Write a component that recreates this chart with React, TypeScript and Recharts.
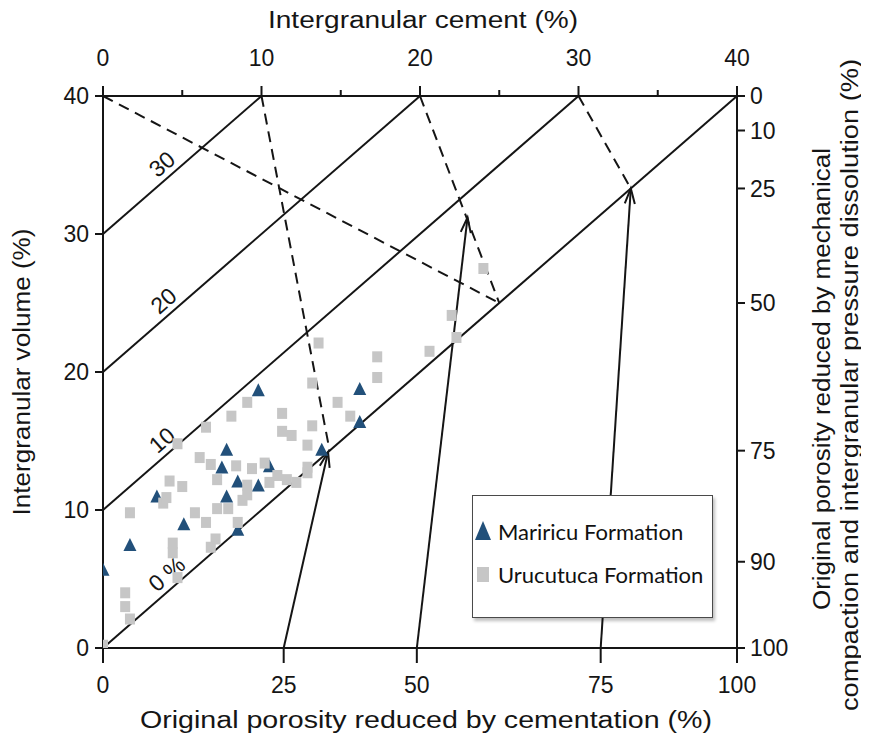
import React from "react";
import {
  ScatterChart, Scatter, XAxis, YAxis, ReferenceLine, ReferenceDot, Legend, Label,
} from "recharts";

// axis ticks
const cementTicks = [0, 5, 10, 15, 20, 25, 30, 35, 40];
const igvTicks = [0, 10, 20, 30, 40];
// bottom scale: % of original porosity lost to cementation, placed on the cement axis
const cementationLabels = [0, 25, 50, 75, 100];
const cementationAt = [0, 11.4, 19.8, 31.4, 40];
// right scale: % of original porosity lost to compaction, placed on the IGV axis
const compactionLabels = [100, 90, 75, 50, 25, 10, 0];
const compactionAt = [0, 6.25, 14.3, 25, 33.3, 37.5, 40];

// porosity isolines (IGV - cement)
const porosityValues = [0, 10, 20, 30];
const porosityLabels = ["0 %", "10", "20", "30"];
const porosityLabelAt = [4.6, 4.3, 4.4, 4.3];

// dashed guides and arrows, in (cement, IGV)
const guideFrom = [[0, 40], [10, 40], [20, 40], [30, 40]];
const guideTo = [[25, 25], [14.3, 14.3], [25, 25], [33.3, 33.3]];
const arrowFrom = [[11.4, 0], [19.8, 0], [31.4, 0]];
const arrowTo = [[14.2, 14.2], [23.0, 31.2], [33.3, 33.3]];

const seriesNames = ["Mariricu Formation", "Urucutuca Formation"];

const mariricu = [
  { cement: 0, igv: 5.6 }, { cement: 1.7, igv: 7.4 }, { cement: 3.4, igv: 10.9 },
  { cement: 5.1, igv: 8.9 }, { cement: 7.8, igv: 14.3 }, { cement: 7.5, igv: 13.0 },
  { cement: 8.5, igv: 12.0 }, { cement: 9.8, igv: 11.7 }, { cement: 7.8, igv: 10.9 },
  { cement: 9.8, igv: 18.6 }, { cement: 10.5, igv: 13.1 }, { cement: 8.5, igv: 8.5 },
  { cement: 13.8, igv: 14.3 }, { cement: 16.2, igv: 18.7 }, { cement: 16.2, igv: 16.3 },
];

const urucutuca = [
  { cement: 0, igv: 0.2 }, { cement: 1.7, igv: 2.1 }, { cement: 1.4, igv: 3.0 },
  { cement: 1.4, igv: 4.0 }, { cement: 4.7, igv: 5.1 }, { cement: 4.4, igv: 7.6 },
  { cement: 4.4, igv: 6.9 }, { cement: 7.1, igv: 7.9 }, { cement: 6.8, igv: 7.3 },
  { cement: 6.5, igv: 9.1 }, { cement: 8.5, igv: 9.1 }, { cement: 1.7, igv: 9.8 },
  { cement: 5.8, igv: 9.8 }, { cement: 7.2, igv: 10.1 }, { cement: 7.9, igv: 10.1 },
  { cement: 8.8, igv: 10.7 }, { cement: 9.1, igv: 11.1 }, { cement: 3.8, igv: 10.5 },
  { cement: 4.0, igv: 10.9 }, { cement: 5.0, igv: 11.7 }, { cement: 4.2, igv: 12.1 },
  { cement: 7.2, igv: 12.2 }, { cement: 9.1, igv: 11.8 }, { cement: 10.5, igv: 12.0 },
  { cement: 11.6, igv: 12.2 }, { cement: 12.2, igv: 12.0 }, { cement: 11.0, igv: 12.5 },
  { cement: 6.1, igv: 13.8 }, { cement: 6.8, igv: 13.3 }, { cement: 8.4, igv: 13.2 },
  { cement: 9.4, igv: 13.0 }, { cement: 10.2, igv: 13.4 }, { cement: 12.9, igv: 13.1 },
  { cement: 12.9, igv: 12.7 }, { cement: 12.9, igv: 14.7 }, { cement: 4.7, igv: 14.8 },
  { cement: 6.5, igv: 16.0 }, { cement: 8.1, igv: 16.8 }, { cement: 9.1, igv: 17.8 },
  { cement: 11.3, igv: 17.0 }, { cement: 11.3, igv: 15.7 }, { cement: 11.9, igv: 15.4 },
  { cement: 13.2, igv: 16.1 }, { cement: 13.2, igv: 19.2 }, { cement: 13.6, igv: 22.1 },
  { cement: 14.8, igv: 17.8 }, { cement: 15.6, igv: 16.8 }, { cement: 17.3, igv: 21.1 },
  { cement: 17.3, igv: 19.6 }, { cement: 20.6, igv: 21.5 }, { cement: 22.3, igv: 22.5 },
  { cement: 22.0, igv: 24.1 }, { cement: 24.0, igv: 27.5 },
];

const INK = "#151515";
const FONT = "'Liberation Sans', Arial, sans-serif";
const TRI = "#22507a";
const SQ = "#c6c6c6";
const TOP_TICK = 10;
const TOP_GAP = 20;

const tickStyle = { fill: INK, fontSize: 23, fontFamily: FONT };
const axisLineStyle = { stroke: INK, strokeWidth: 2 };
const tickLineStyle = { stroke: INK, strokeWidth: 2 };

// eslint-disable-next-line @typescript-eslint/no-explicit-any
function Triangle(p: any) {
  const { cx, cy } = p;
  return <polygon points={`${cx},${cy - 8} ${cx - 6.5},${cy + 5} ${cx + 6.5},${cy + 5}`} fill={TRI} />;
}

// eslint-disable-next-line @typescript-eslint/no-explicit-any
function Square(p: any) {
  const { cx, cy } = p;
  return <rect x={cx - 5} y={cy - 5.5} width={10} height={11} fill={SQ} />;
}

// eslint-disable-next-line @typescript-eslint/no-explicit-any
function TopTick(p: any) {
  const { x, y, payload } = p;
  const axisY = y + TOP_TICK + TOP_GAP;
  const major = payload.value % 10 === 0;
  return (
    <g>
      <line x1={x} x2={x} y1={axisY} y2={axisY - (major ? TOP_TICK : 6)} stroke={INK} strokeWidth={2} />
      {major && (
        <text x={x} y={y} textAnchor="middle" fill={INK} fontSize={23} fontFamily={FONT}>
          {payload.value}
        </text>
      )}
    </g>
  );
}

// eslint-disable-next-line @typescript-eslint/no-explicit-any
function BottomTick(p: any) {
  const { x, y, payload } = p;
  const i = cementationAt.indexOf(payload.value);
  const axisY = y - 25;
  return (
    <g>
      <line x1={x} x2={x} y1={axisY} y2={axisY + 15} stroke={INK} strokeWidth={2} />
      <text x={x} y={y + 20} textAnchor="middle" fill={INK} fontSize={23} fontFamily={FONT}>
        {cementationLabels[i]}
      </text>
    </g>
  );
}

// eslint-disable-next-line @typescript-eslint/no-explicit-any
function Arrow(p: any) {
  const { x1, y1, x2, y2 } = p;
  const a = Math.atan2(y2 - y1, x2 - x1);
  const len = 16;
  const s = 0.32;
  const hx1 = x2 - len * Math.cos(a - s), hy1 = y2 - len * Math.sin(a - s);
  const hx2 = x2 - len * Math.cos(a + s), hy2 = y2 - len * Math.sin(a + s);
  return (
    <g>
      <line x1={x1} y1={y1} x2={x2} y2={y2} stroke={INK} strokeWidth={2} />
      <polyline points={`${hx1},${hy1} ${x2},${y2} ${hx2},${hy2}`} fill="none" stroke={INK} strokeWidth={2} />
    </g>
  );
}

function isoLabel(text: string) {
  // eslint-disable-next-line @typescript-eslint/no-explicit-any
  return (props: any) => {
    const vb = props.viewBox || {};
    const cx = vb.x + (vb.width || 0) / 2;
    const cy = vb.y + (vb.height || 0) / 2;
    return (
      <text
        x={cx} y={cy} dy={-6} textAnchor="middle" fill={INK} fontSize={23} fontFamily={FONT}
        transform={`rotate(-41 ${cx} ${cy})`}
      >
        {text}
      </text>
    );
  };
}

// eslint-disable-next-line @typescript-eslint/no-explicit-any
function TopTitle(props: any) {
  const vb = props.viewBox;
  return (
    <text x={vb.x + vb.width / 2 + 3} y={vb.y - 18} textAnchor="middle" fill={INK} fontSize={23}
      fontFamily={FONT} textLength={310} lengthAdjust="spacingAndGlyphs">
      Intergranular cement (%)
    </text>
  );
}

// eslint-disable-next-line @typescript-eslint/no-explicit-any
function BottomTitle(props: any) {
  const vb = props.viewBox;
  return (
    <text x={vb.x + vb.width / 2 + 6} y={vb.y + 80} textAnchor="middle" fill={INK} fontSize={23}
      fontFamily={FONT} textLength={572} lengthAdjust="spacingAndGlyphs">
      Original porosity reduced by cementation (%)
    </text>
  );
}

// eslint-disable-next-line @typescript-eslint/no-explicit-any
function LeftTitle(props: any) {
  const vb = props.viewBox;
  const x = vb.x - 13;
  const y = vb.y + vb.height / 2;
  return (
    <text x={x} y={y} textAnchor="middle" fill={INK} fontSize={23} fontFamily={FONT}
      transform={`rotate(-90 ${x} ${y})`} textLength={287} lengthAdjust="spacingAndGlyphs">
      Intergranular volume (%)
    </text>
  );
}

// eslint-disable-next-line @typescript-eslint/no-explicit-any
function RightTitle(props: any) {
  const vb = props.viewBox;
  const y = vb.y + vb.height / 2;
  const x1 = vb.x + 93;
  const x2 = vb.x + 121;
  return (
    <g>
      <text x={x1} y={y + 7} textAnchor="middle" fill={INK} fontSize={23} fontFamily={FONT}
        transform={`rotate(-90 ${x1} ${y + 7})`} textLength={462} lengthAdjust="spacingAndGlyphs">
        Original porosity reduced by mechanical
      </text>
      <text x={x2} y={y + 13} textAnchor="middle" fill={INK} fontSize={23} fontFamily={FONT}
        transform={`rotate(-90 ${x2} ${y + 13})`} textLength={652} lengthAdjust="spacingAndGlyphs">
        compaction and intergranular pressure dissolution (%)
      </text>
    </g>
  );
}

function LegendBox() {
  return (
    <div
      style={{
        width: 241, height: 123, boxSizing: "border-box", border: "1.5px solid #4a4a4a",
        background: "#fff", boxShadow: "2px 3px 3px rgba(0,0,0,0.25)",
        fontFamily: "Lato, sans-serif", fontSize: 22, color: "#111", position: "relative",
      }}
    >
      {seriesNames.map((name, i) => (
        <div key={name} style={{ position: "absolute", left: 1, top: 22 + i * 43, display: "flex", alignItems: "center", height: 26 }}>
          <svg width={22} height={22} style={{ marginRight: 2 }}>
            {i === 0
              ? <polygon points="9,1 1,20 17,20" fill={TRI} />
              : <rect x={3} y={4} width={12} height={15} fill={SQ} />}
          </svg>
          <span>{name}</span>
        </div>
      ))}
    </div>
  );
}

export default function App() {
  return (
    <ScatterChart width={861} height={726} margin={{ top: 38, right: 62, bottom: 36, left: 35 }}>
      <XAxis
        xAxisId="top" orientation="top" type="number" dataKey="cement" domain={[0, 40]}
        allowDataOverflow ticks={cementTicks} interval={0} height={50}
        tickSize={TOP_TICK} tickMargin={TOP_GAP} tickLine={false} tick={TopTick}
        axisLine={axisLineStyle}
      >
        <Label content={TopTitle} />
      </XAxis>
      <XAxis
        xAxisId="bottom" orientation="bottom" type="number" dataKey="cement" domain={[0, 40]}
        allowDataOverflow ticks={cementationAt} interval={0} height={50} tickSize={15} tickMargin={10}
        tickLine={false} tick={BottomTick} axisLine={axisLineStyle}
      >
        <Label content={BottomTitle} />
      </XAxis>
      <YAxis
        yAxisId="left" orientation="left" type="number" dataKey="igv" domain={[0, 40]}
        allowDataOverflow ticks={igvTicks} interval={0} width={60} tickSize={8} tickMargin={6}
        tick={tickStyle} tickLine={tickLineStyle} axisLine={axisLineStyle}
      >
        <Label content={LeftTitle} />
      </YAxis>
      <YAxis
        yAxisId="right" orientation="right" type="number" domain={[0, 40]} allowDataOverflow
        ticks={compactionAt} interval={0} width={70} tickSize={8} tickMargin={5}
        tickFormatter={(v: number) => String(compactionLabels[compactionAt.indexOf(v)])}
        tick={tickStyle} tickLine={tickLineStyle} axisLine={axisLineStyle}
      >
        <Label content={RightTitle} />
      </YAxis>

      {porosityValues.map((p) => (
        <ReferenceLine
          key={`iso-${p}`} xAxisId="top" yAxisId="left" ifOverflow="visible"
          segment={[{ x: 0, y: p }, { x: 40 - p, y: 40 }]} stroke={INK} strokeWidth={2}
        />
      ))}
      {guideFrom.map((f, i) => (
        <ReferenceLine
          key={`guide-${i}`} xAxisId="top" yAxisId="left" ifOverflow="visible"
          segment={[{ x: f[0], y: f[1] }, { x: guideTo[i][0], y: guideTo[i][1] }]}
          stroke={INK} strokeWidth={2} strokeDasharray="11 7"
        />
      ))}
      {arrowFrom.map((f, i) => (
        <ReferenceLine
          key={`arrow-${i}`} xAxisId="top" yAxisId="left" ifOverflow="visible"
          segment={[{ x: f[0], y: f[1] }, { x: arrowTo[i][0], y: arrowTo[i][1] }]}
          shape={Arrow}
        />
      ))}
      {porosityValues.map((p, i) => (
        <ReferenceDot
          key={`isolab-${p}`} xAxisId="top" yAxisId="left" ifOverflow="visible"
          x={porosityLabelAt[i]} y={porosityLabelAt[i] + p} r={0} fill="none" stroke="none"
          label={{ content: isoLabel(porosityLabels[i]) }}
        />
      ))}

      <Scatter name={seriesNames[0]} data={mariricu} xAxisId="top" yAxisId="left" shape={Triangle} isAnimationActive={false} />
      <Scatter name={seriesNames[1]} data={urucutuca} xAxisId="top" yAxisId="left" shape={Square} isAnimationActive={false} />

      <Legend
        layout="vertical" align="center" verticalAlign="middle" content={LegendBox}
        wrapperStyle={{ left: 464, top: 487, width: 241, height: 123 }}
      />
    </ScatterChart>
  );
}
